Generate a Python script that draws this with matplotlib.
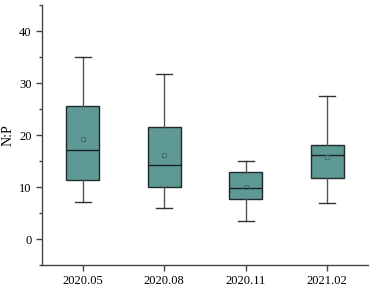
import matplotlib
matplotlib.use("Agg")
import matplotlib.pyplot as plt
from matplotlib.ticker import MultipleLocator

# 采样时间
labels = ['2020.05', '2020.08', '2020.11', '2021.02']
# 箱线图统计量
whislo = [7.2, 6.0, 3.5, 6.9]
q1 = [11.4, 10.1, 7.7, 11.7]
med = [17.2, 14.3, 9.8, 16.1]
q3 = [25.5, 21.5, 12.9, 18.1]
whishi = [35.0, 31.7, 15.1, 27.5]
mean = [19.3, 16.2, 10.1, 15.7]

stats = []
for i in range(len(labels)):
    stats.append(dict(label=labels[i], whislo=whislo[i], q1=q1[i], med=med[i],
                      q3=q3[i], whishi=whishi[i], mean=mean[i], fliers=[]))

plt.rcParams['font.family'] = ['Liberation Serif', 'DejaVu Serif']
fig = plt.figure(figsize=(3.73, 2.94), dpi=100)
ax = fig.add_axes([0.1126, 0.0986, 0.874, 0.884])

ax.bxp(stats, positions=[1, 2, 3, 4], widths=0.4, patch_artist=True, showmeans=True,
       boxprops=dict(facecolor='#5f9996', edgecolor='#1f2a2a', linewidth=1.0),
       medianprops=dict(color='#1a2222', linewidth=1.0),
       whiskerprops=dict(color='#555555', linewidth=1.0),
       capprops=dict(color='#333333', linewidth=1.0),
       meanprops=dict(marker='s', markersize=2.5, markerfacecolor='none',
                      markeredgecolor='#3d6664', markeredgewidth=0.6))

ax.set_xlim(0.5, 4.5)
ax.set_ylim(-5, 45)
ax.yaxis.set_major_locator(MultipleLocator(10))
ax.yaxis.set_minor_locator(MultipleLocator(5))
ax.spines['top'].set_visible(False)
ax.spines['right'].set_visible(False)
for s in ['left', 'bottom']:
    ax.spines[s].set_color('#444444')
    ax.spines[s].set_linewidth(1.0)
ax.tick_params(axis='both', which='major', direction='out', length=4, width=1,
               color='#444444', labelsize=9)
ax.tick_params(axis='y', which='minor', direction='out', length=2.5, width=1, color='#444444')
ax.set_ylabel('N:P', fontsize=10, labelpad=3)

fig.savefig('out.png', dpi=100)
